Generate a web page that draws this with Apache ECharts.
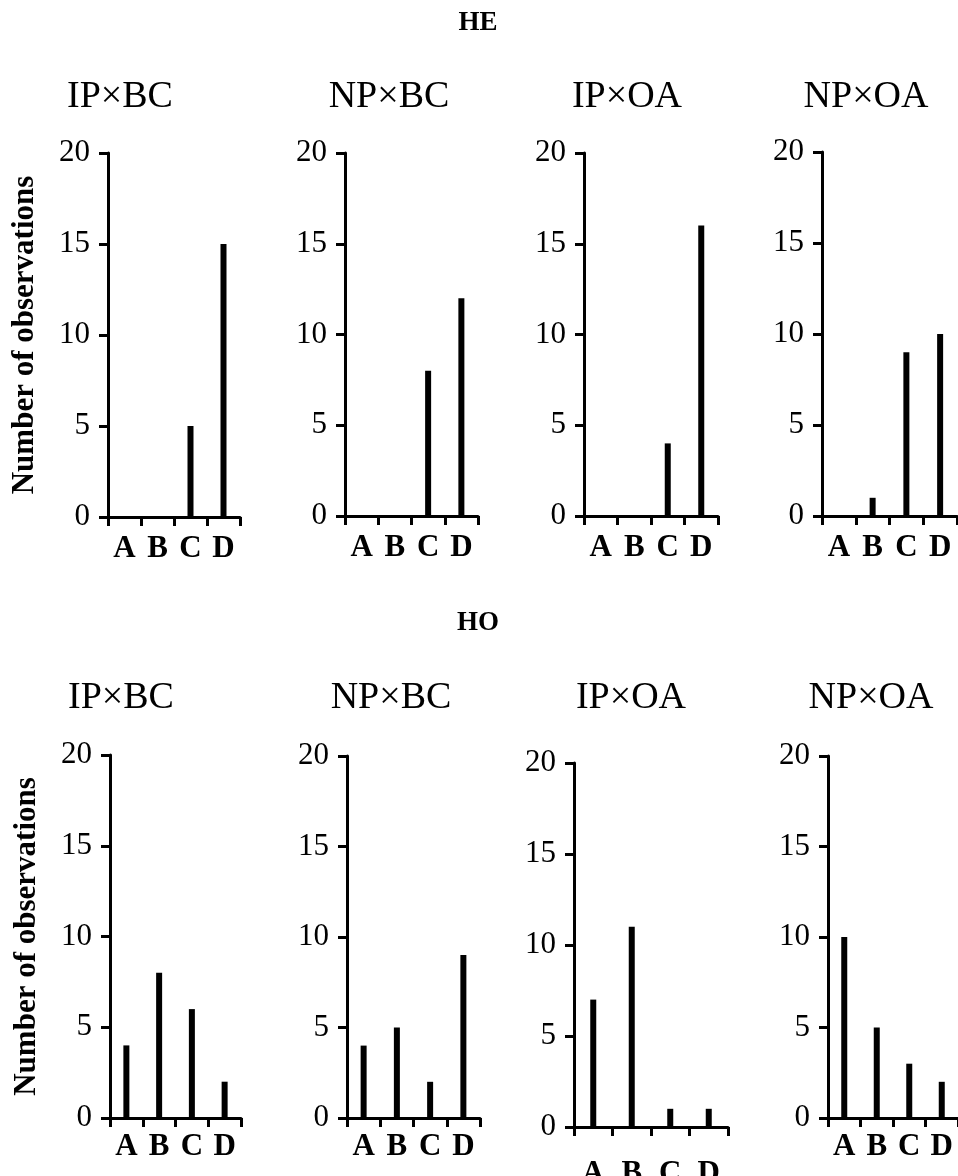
<!DOCTYPE html>
<html>
<head>
<meta charset="utf-8">
<script src="https://cdn.jsdelivr.net/npm/echarts@6/dist/echarts.min.js"></script>
<style>
  html, body { margin: 0; padding: 0; background: #fff; }
  #chart { width: 958px; height: 1176px; }
</style>
</head>
<body>
<div id="chart"></div>
<script>
// Categories on every x axis
const categories = ['A', 'B', 'C', 'D'];
const crossTitles = ['IP×BC', 'NP×BC', 'IP×OA', 'NP×OA'];
const groupTitles = ['HE', 'HO'];

// Counts per category, HE group
const heIPxBC = [0, 0, 5, 15];
const heNPxBC = [0, 0, 8, 12];
const heIPxOA = [0, 0, 4, 16];
const heNPxOA = [0, 1, 9, 10];

// Counts per category, HO group
const hoIPxBC = [4, 8, 6, 2];
const hoNPxBC = [4, 5, 2, 9];
const hoIPxOA = [7, 11, 1, 1];
const hoNPxOA = [10, 5, 3, 2];

// Value axis range
const yMin = 0, yMax = 20, yStep = 5;
const yAxisTitle = 'Number of observations';

const panelData = [heIPxBC, heNPxBC, heIPxOA, heNPxOA, hoIPxBC, hoNPxBC, hoIPxOA, hoNPxOA];

// Plot rectangles of the eight panels (left, top, width, height)
const rects = [
  [108, 153, 132, 364],
  [345, 153, 133, 363],
  [584, 153, 134, 363],
  [822, 152, 135, 364],
  [110, 755, 131, 363],
  [347, 756, 133, 362],
  [574, 763, 154, 364],
  [828, 756, 130, 362]
];
const labelMargins = [16, 16, 16, 16, 13, 13, 31, 13];

const serif = '"Liberation Serif", "Times New Roman", serif';
const ink = '#000';

const grids = [], xAxes = [], yAxes = [], series = [];
rects.forEach((r, i) => {
  grids.push({ left: r[0], top: r[1], width: r[2], height: r[3], outerBoundsMode: 'none', containLabel: false });
  xAxes.push({
    type: 'category', gridIndex: i, data: categories, boundaryGap: true,
    axisLine: { lineStyle: { color: ink, width: 3 } },
    axisTick: { show: true, length: 9, lineStyle: { color: ink, width: 3 } },
    axisLabel: { color: ink, fontFamily: serif, fontWeight: 'bold', fontSize: 31, margin: labelMargins[i], interval: 0 },
    splitLine: { show: false }
  });
  const showName = (i === 0 || i === 4);
  yAxes.push({
    type: 'value', gridIndex: i, min: yMin, max: yMax, interval: yStep,
    axisLine: { show: true, lineStyle: { color: ink, width: 3 } },
    axisTick: { show: true, length: 9, lineStyle: { color: ink, width: 3 } },
    axisLabel: { color: ink, fontFamily: serif, fontSize: 31, margin: 18 },
    splitLine: { show: false },
    name: showName ? yAxisTitle : '',
    nameLocation: 'middle', nameRotate: 90, nameGap: 68,
    nameTextStyle: { color: ink, fontFamily: serif, fontWeight: 'bold', fontSize: 31 }
  });
  series.push({
    type: 'bar', xAxisIndex: i, yAxisIndex: i, data: panelData[i],
    barWidth: 6, itemStyle: { color: ink }, silent: true, animation: false
  });
});

// Panel and group headings
const titleCenters = [
  [120, 97], [389, 97], [627, 97], [866, 97],
  [121, 698], [391, 698], [631, 698], [871, 698]
];
const graphics = [];
titleCenters.forEach((c, i) => {
  graphics.push({
    type: 'text', x: c[0], y: c[1],
    style: { text: crossTitles[i % 4], font: '38px ' + serif, fill: ink, align: 'center', verticalAlign: 'middle' }
  });
});
[[478, 23], [478, 623]].forEach((c, i) => {
  graphics.push({
    type: 'text', x: c[0], y: c[1],
    style: { text: groupTitles[i], font: 'bold 27px ' + serif, fill: ink, align: 'center', verticalAlign: 'middle' }
  });
});

const chart = echarts.init(document.getElementById('chart'), null, { renderer: 'canvas' });
chart.setOption({
  backgroundColor: '#fff',
  animation: false,
  grid: grids,
  xAxis: xAxes,
  yAxis: yAxes,
  series: series,
  graphic: graphics
});
</script>
</body>
</html>
